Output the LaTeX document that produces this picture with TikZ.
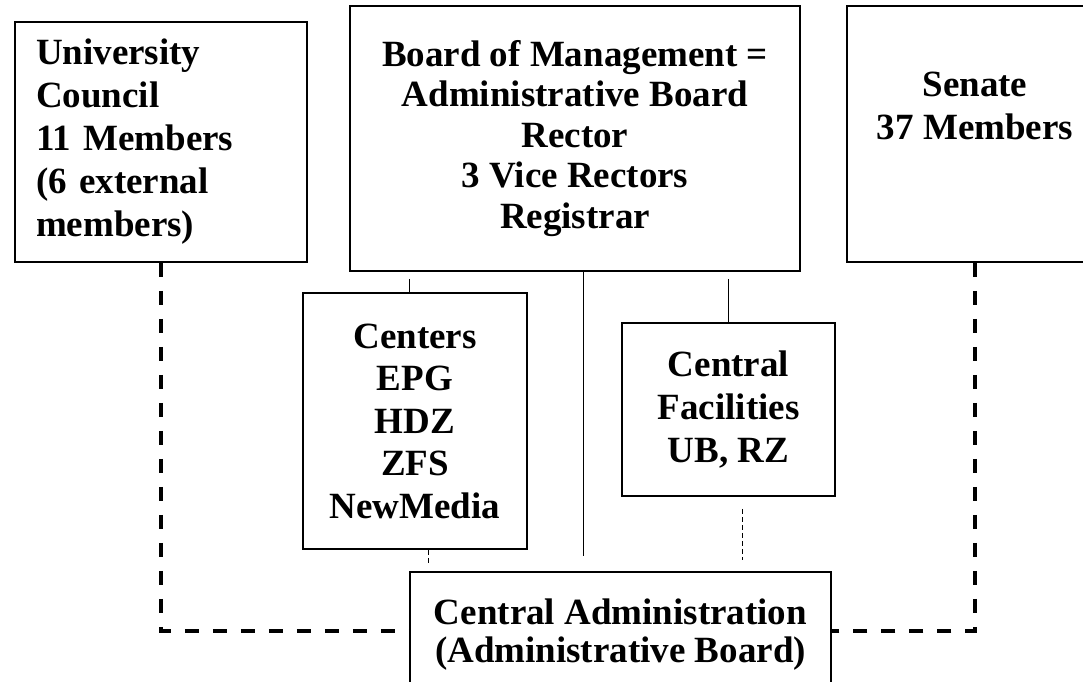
\documentclass[tikz,border=0pt]{standalone}
\usepackage{fontspec}
\setmainfont{Liberation Serif}
\begin{document}
\begin{tikzpicture}[x=1pt,y=-1pt,
    box/.style={draw, line width=1.5pt, align=center, inner sep=0pt,
      font=\fontsize{37}{43}\selectfont\bfseries},
    link/.style={line width=1pt},
    minorlink/.style={line width=1pt, dash pattern=on 5pt off 3pt},
    majorlink/.style={line width=4pt, dash pattern=on 14pt off 14pt}]
    \useasboundingbox (0,0) rectangle (1083,681);
    % bodies of the university
    \node [box, align=left, text width=250pt, minimum width=292pt, minimum height=240pt]
      (council) at (161,142) {University\\Council\\11 Members\\(6 external\\members)};
    \node [box, font=\fontsize{37}{40.5}\selectfont\bfseries, minimum width=450pt, minimum height=265pt]
      (board) at (575,138.5) {Board of Management =\\Administrative Board\\Rector\\3 Vice Rectors\\Registrar};
    \node [box, minimum width=256pt, minimum height=256pt]
      (senate) at (975,134) {Senate\\37 Members\\\strut};
    \node [box, font=\fontsize{37}{42.5}\selectfont\bfseries, minimum width=224pt, minimum height=256pt]
      (centers) at (415,421) {Centers\\EPG\\HDZ\\ZFS\\NewMedia};
    \node [box, minimum width=213pt, minimum height=173pt]
      (facilities) at (728.5,409.5) {Central\\Facilities\\UB, RZ};
    \node [box, font=\fontsize{37}{38}\selectfont\bfseries, minimum width=421pt, minimum height=126pt]
      (admin) at (620.5,635) {Central Administration\\(Administrative Board)};
    % solid links from the board
    \draw [link, shorten <=7pt] ([xshift=-6pt]centers.north |- board.south) -- ([xshift=-6pt]centers.north);
    \draw [link, shorten >=15pt] ([xshift=8pt]board.south) -- ([xshift=8pt]board.south |- admin.north);
    \draw [link, shorten <=7pt] (facilities.north |- board.south) -- (facilities.north);
    % thin dashed links to the administration
    \draw [minorlink, shorten >=6pt] ([xshift=13pt]centers.south) -- ([xshift=13pt]centers.south |- admin.north);
    \draw [minorlink, shorten <=12pt, shorten >=11pt] ([xshift=14pt]facilities.south) -- ([xshift=14pt]facilities.south |- admin.north);
    % thick dashed links
    \draw [majorlink] (council.south) |- ([yshift=4pt]admin.west);
    \draw [majorlink] (senate.south) |- ([yshift=4pt]admin.east);
\end{tikzpicture}
\end{document}
